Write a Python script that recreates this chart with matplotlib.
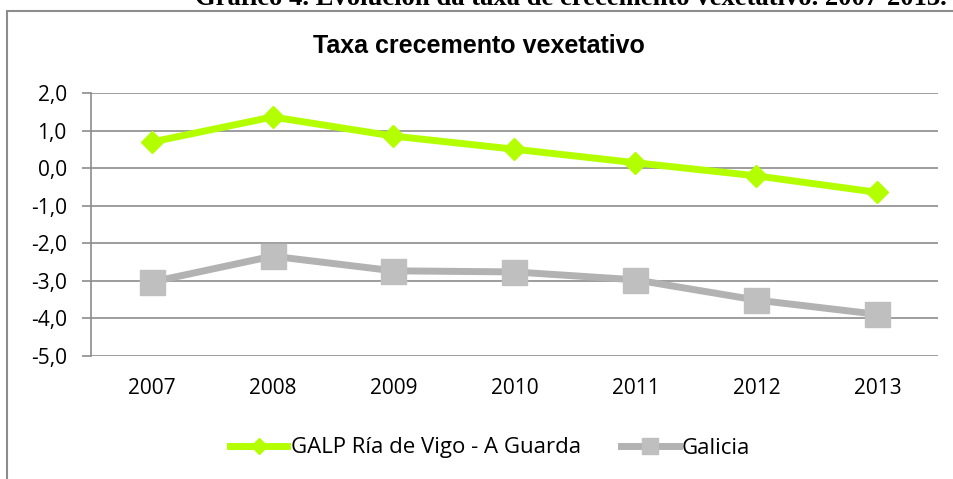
import matplotlib.pyplot as plt
from matplotlib.patches import Rectangle
from matplotlib.ticker import FuncFormatter

# datos
anos = ['2007', '2008', '2009', '2010', '2011', '2012', '2013']
galp = [0.70, 1.37, 0.86, 0.51, 0.15, -0.20, -0.64]
galicia = [-3.03, -2.34, -2.73, -2.76, -2.97, -3.51, -3.89]
yticks = [2, 1, 0, -1, -2, -3, -4, -5]

fig = plt.figure(figsize=(9.54, 4.79), dpi=100)
ax = fig.add_axes([0.0954, 0.2568, 0.8878, 0.5484])

# caixa exterior (o dereito e o de abaixo quedan fóra)
fig.patches.append(Rectangle((7 / 954, -0.1), 1.2, 1 - 11 / 479 + 0.1, transform=fig.transFigure,
                             fill=False, edgecolor='#8c8c8c', linewidth=1.5, clip_on=False))

# título do documento, cortado arriba
fig.text(947 / 954, 1 - 5 / 479, 'Gráfico 4. Evolución da taxa de crecemento vexetativo. 2007-2013.',
         ha='right', va='baseline', fontsize=19.2, fontweight='bold', family='Liberation Serif')

x = range(len(anos))
ax.plot(x, galp, color='#b3ff00', linewidth=5, marker='D', markersize=11.7,
        label='GALP Ría de Vigo - A Guarda')
ax.plot(x, galicia, color='#b2b2b2', linewidth=5, marker='s', markersize=18,
        markerfacecolor='#bfbfbf', markeredgecolor='#bfbfbf', label='Galicia')

ax.set_xlim(-0.5, 6.5)
ax.set_ylim(-5, 2)
ax.set_xticks(list(x))
ax.set_xticklabels(anos)
ax.set_yticks(yticks)
ax.yaxis.set_major_formatter(FuncFormatter(lambda v, p: f'{v:.1f}'.replace('.', ',')))
ax.grid(axis='y', color='#8c8c8c', linewidth=1.2)
ax.set_axisbelow(True)
for s in ['top', 'right', 'bottom']:
    ax.spines[s].set_visible(False)
ax.spines['left'].set_color('#8c8c8c')
ax.spines['left'].set_linewidth(1.2)
ax.tick_params(axis='y', length=6.5, width=1.2, color='#8c8c8c', labelsize=15, pad=11)
ax.tick_params(axis='x', length=0, labelsize=15, pad=16)
for lab in ax.get_xticklabels() + ax.get_yticklabels():
    lab.set_family('Open Sans')

fig.text(478.5 / 954, 1 - 53 / 479, 'Taxa crecemento vexetativo', ha='center', va='baseline',
         fontsize=18, fontweight='bold', family='Liberation Sans')

fig.legend(loc='center', bbox_to_anchor=(490 / 954, 1 - 448 / 479), ncol=2, frameon=False,
           handlelength=2.6, columnspacing=1.8, handletextpad=0.15,
           prop={'family': 'Open Sans', 'size': 16}, markerscale=0.66)

fig.savefig('out.png', dpi=100)
